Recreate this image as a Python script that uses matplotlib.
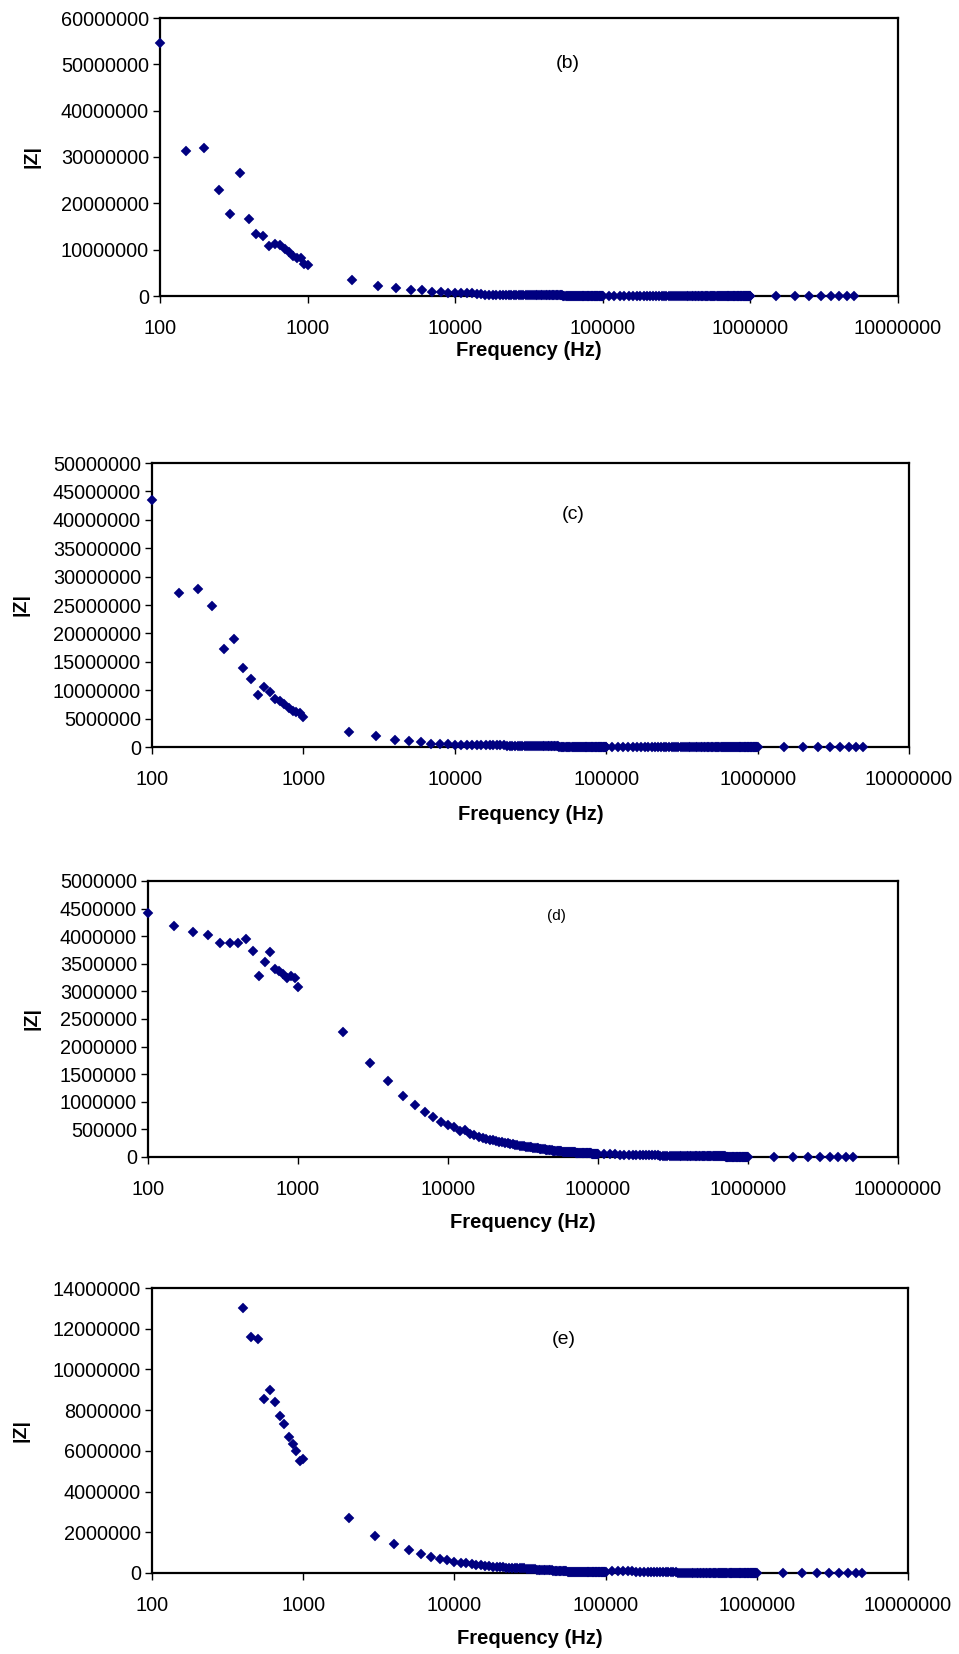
import numpy as np
import matplotlib.pyplot as plt
from matplotlib.ticker import FixedLocator, FuncFormatter, NullLocator

plt.rcParams['font.family'] = ['Liberation Sans', 'DejaVu Sans']

f_low = [100, 150, 200, 250, 300, 350, 400, 450, 500, 550,
         600, 650, 700, 750, 800, 850, 900, 950, 1000]
f_mid = [2000, 3000, 4000, 5000, 6000, 7000, 8000, 9000, 10000]
f_dense1_khz = [11, 12, 13, 14, 15, 16, 17, 18, 19, 20,
                21, 22, 23, 24, 25, 26, 27, 28, 29, 30,
                31, 32, 33, 34, 35, 36, 37, 38, 39, 40,
                41, 42, 43, 44, 45, 46, 47, 48, 49, 50,
                51, 52, 53, 54, 55, 56, 57, 58, 59, 60,
                61, 62, 63, 64, 65, 66, 67, 68, 69, 70,
                71, 72, 73, 74, 75, 76, 77, 78, 79, 80,
                81, 82, 83, 84, 85, 86, 87, 88, 89, 90,
                91, 92, 93, 94, 95, 96, 97, 98, 99, 100]
f_dense2_khz = [110, 120, 130, 140, 150, 160, 170, 180, 190, 200,
                210, 220, 230, 240, 250, 260, 270, 280, 290, 300,
                310, 320, 330, 340, 350, 360, 370, 380, 390, 400,
                410, 420, 430, 440, 450, 460, 470, 480, 490, 500,
                510, 520, 530, 540, 550, 560, 570, 580, 590, 600,
                610, 620, 630, 640, 650, 660, 670, 680, 690, 700,
                710, 720, 730, 740, 750, 760, 770, 780, 790, 800,
                810, 820, 830, 840, 850, 860, 870, 880, 890, 900,
                910, 920, 930, 940, 950, 960, 970, 980, 990, 1000]
f_high = [1500000, 2000000, 2500000, 3000000, 3500000, 4000000, 4500000, 5000000]

# ---- panel (b) ----  low/mid in MOhm, dense/high in kOhm
zb_low = [54.6, 31.3, 31.9, 22.8, 17.7, 26.6, 16.7, 13.3, 13.0, 10.7,
          11.3, 11.0, 10.2, 9.5, 8.6, 8.1, 8.2, 7.0, 6.6]
zb_mid = [3.4, 2.1, 1.8, 1.2, 1.2, 0.8, 0.8, 0.58, 0.58]
zb_dense1 = [560, 550, 540, 530, 520, 260, 255, 250, 246, 242,
             238, 235, 232, 229, 226, 223, 220, 217, 214, 211,
             208, 205, 202, 200, 197, 195, 193, 190, 188, 186,
             184, 182, 180, 178, 176, 130, 126, 122, 118, 115,
             112, 110, 108, 106, 104, 102, 100, 98, 96, 95,
             94, 92, 90, 89, 88, 86, 85, 84, 83, 82,
             80, 79, 78, 77, 76, 75, 74, 73, 72, 71,
             70, 69, 68, 67, 66, 65, 64, 63, 62, 61,
             60, 60, 59, 58, 57, 57, 56, 55, 55, 54]
zb_dense2 = [60, 58, 56, 54, 52, 50, 48, 47, 46, 45,
             44, 43, 42, 41, 40, 39, 38, 37, 36, 35,
             24, 23, 23, 22, 22, 21, 21, 20, 20, 19,
             19, 18, 18, 18, 17, 17, 17, 16, 16, 16,
             15, 15, 15, 15, 14, 14, 14, 14, 13, 13,
             13, 13, 13, 12, 12, 12, 12, 12, 11, 11,
             11, 11, 11, 11, 10, 10, 10, 10, 10, 10,
             10, 9, 9, 9, 9, 9, 9, 9, 9, 8,
             8, 8, 8, 8, 8, 8, 8, 8, 7, 7]
zb_high = [6, 5, 5, 4, 4, 4, 3, 3]

# ---- panel (c) ----
zc_low = [43.5, 27.05, 27.8, 24.9, 17.3, 19.1, 13.85, 12.0, 9.15, 10.5,
          9.7, 8.45, 8.15, 7.6, 6.9, 6.3, 6.1, 5.9, 5.3]
zc_mid = [2.6, 1.9, 1.3, 1.0, 0.82, 0.53, 0.53, 0.59, 0.3]
zc_dense1 = [310, 305, 300, 296, 292, 288, 284, 280, 276, 272,
             268, 264, 260, 256, 252, 248, 244, 240, 236, 232,
             228, 225, 222, 219, 216, 213, 210, 207, 204, 201,
             198, 195, 192, 190, 188, 186, 184, 90, 88, 86,
             84, 82, 80, 78, 77, 76, 75, 74, 73, 72,
             71, 70, 69, 68, 67, 66, 65, 64, 63, 62,
             61, 60, 60, 59, 58, 58, 57, 56, 56, 55,
             55, 54, 54, 53, 53, 52, 52, 51, 51, 50,
             50, 49, 49, 48, 48, 47, 47, 46, 46, 45]
zc_dense2 = [44, 42, 40, 38, 37, 35, 34, 33, 32, 31,
             30, 29, 28, 27, 26, 26, 25, 24, 24, 23,
             23, 22, 22, 21, 21, 20, 20, 19, 19, 18,
             18, 18, 17, 17, 17, 16, 16, 16, 15, 15,
             15, 14, 14, 14, 14, 13, 13, 13, 13, 12,
             12, 12, 12, 12, 11, 11, 11, 11, 11, 10,
             10, 10, 10, 10, 10, 9, 9, 9, 9, 9,
             9, 9, 8, 8, 8, 8, 8, 8, 8, 8,
             7, 7, 7, 7, 7, 7, 7, 7, 7, 7]
zc_high = [6, 5, 5, 4, 4, 4, 3, 3]

# ---- panel (d) ----
zd_low = [4.42, 4.18, 4.08, 4.03, 3.87, 3.87, 3.87, 3.95, 3.74, 3.27,
          3.53, 3.71, 3.40, 3.37, 3.31, 3.24, 3.28, 3.24, 3.08]
zd_mid = [2.27, 1.71, 1.38, 1.11, 0.95, 0.82, 0.72, 0.64, 0.58]
zd_dense1 = [540, 480, 490, 410, 390, 355, 340, 325, 312, 300,
             288, 278, 268, 258, 249, 240, 232, 224, 216, 208,
             202, 196, 190, 185, 180, 175, 170, 165, 160, 155,
             150, 146, 142, 138, 134, 130, 127, 124, 120, 117,
             112, 110, 108, 106, 104, 102, 100, 99, 97, 96,
             94, 93, 91, 90, 89, 87, 86, 85, 83, 82,
             81, 80, 79, 78, 77, 76, 75, 74, 73, 72,
             71, 70, 69, 68, 68, 67, 66, 65, 64, 64,
             63, 62, 62, 61, 60, 59, 59, 58, 57, 56]
zd_dense2 = [52, 49, 46, 44, 42, 40, 38, 36, 35, 33,
             32, 31, 30, 29, 28, 27, 26, 25, 24, 24,
             23, 22, 22, 21, 20, 20, 19, 19, 18, 18,
             17, 17, 17, 16, 16, 15, 15, 15, 14, 14,
             14, 13, 13, 13, 13, 12, 12, 12, 12, 11,
             11, 11, 11, 11, 10, 10, 10, 10, 10, 10,
             9, 9, 9, 9, 9, 9, 9, 8, 8, 8,
             8, 8, 8, 8, 8, 7, 7, 7, 7, 7,
             7, 7, 7, 7, 6, 6, 6, 6, 6, 6]
zd_high = [5, 4, 4, 3, 3, 3, 2, 2]

# ---- panel (e) ----  (points below 400 Hz are off the top of the scale)
fe_low = [400, 450, 500, 550, 600, 650, 700, 750, 800, 850, 900, 950, 1000]
ze_low = [13.0, 11.6, 11.5, 8.55, 9.0, 8.38, 7.73, 7.30, 6.68, 6.35,
          5.98, 5.49, 5.6]
ze_mid = [2.69, 1.82, 1.44, 1.15, 0.92, 0.78, 0.69, 0.64, 0.54]
ze_dense1 = [490, 490, 460, 410, 380, 360, 330, 310, 295, 280,
             272, 265, 258, 252, 246, 240, 235, 230, 225, 220,
             216, 212, 208, 204, 140, 138, 136, 134, 132, 130,
             128, 126, 125, 124, 122, 121, 120, 118, 117, 116,
             115, 114, 113, 112, 111, 70, 70, 69, 69, 68,
             68, 67, 67, 66, 66, 65, 65, 64, 64, 63,
             63, 62, 62, 61, 61, 60, 60, 59, 59, 58,
             58, 57, 57, 56, 56, 55, 55, 54, 54, 53,
             53, 52, 52, 51, 51, 50, 50, 49, 49, 48]
ze_dense2 = [100, 98, 96, 95, 93, 35, 34, 33, 32, 31,
             30, 29, 28, 28, 27, 26, 26, 25, 25, 24,
             24, 23, 23, 22, 22, 21, 21, 20, 20, 19,
             19, 19, 18, 18, 18, 17, 17, 17, 16, 16,
             16, 15, 15, 15, 15, 14, 14, 14, 14, 13,
             13, 13, 13, 12, 12, 12, 12, 12, 11, 11,
             11, 11, 11, 10, 10, 10, 10, 10, 10, 9,
             9, 9, 9, 9, 9, 9, 9, 8, 8, 8,
             8, 8, 8, 8, 8, 8, 7, 7, 7, 7]
ze_high = [6, 5, 5, 4, 4, 4, 3, 3]


def build(flow, zlow, zmid, zd1, zd2, zhigh):
    f = np.concatenate([flow, f_mid, np.array(f_dense1_khz) * 1e3,
                        np.array(f_dense2_khz) * 1e3, f_high])
    z = np.concatenate([np.array(zlow) * 1e6, np.array(zmid) * 1e6,
                        np.array(zd1) * 1e3, np.array(zd2) * 1e3,
                        np.array(zhigh) * 1e3])
    return f, z


W, H = 959, 1654
fig = plt.figure(figsize=(W / 100, H / 100), dpi=100)

navy = '#000080'
panels = [
    # data, (left, top, right, bottom) in px, ymax, ystep, tag, tag pos, tag size, ylabel x, xlabel y
    (build(f_low, zb_low, zb_mid, zb_dense1, zb_dense2, zb_high),
     (160, 18, 898, 296), 60000000, 10000000, '(b)', (568, 63), 14, 32, 350),
    (build(f_low, zc_low, zc_mid, zc_dense1, zc_dense2, zc_high),
     (152, 463, 909, 747), 50000000, 5000000, '(c)', (573, 514), 14, 21, 814),
    (build(f_low, zd_low, zd_mid, zd_dense1, zd_dense2, zd_high),
     (148, 881, 898, 1157), 5000000, 500000, '(d)', (556, 916), 11, 32, 1223),
    (build(fe_low, ze_low, ze_mid, ze_dense1, ze_dense2, ze_high),
     (152, 1288, 908, 1573), 14000000, 2000000, '(e)', (564, 1340), 14, 21, 1639),
]

for (f, z), (l, t, r, b), ymax, ystep, tag, tpos, tsize, ylx, xly in panels:
    ax = fig.add_axes([l / W, 1 - b / H, (r - l) / W, (b - t) / H])
    ax.plot(f, z, linestyle='none', marker='D', ms=5.2, color=navy,
            mec=navy, mew=0.3, clip_on=False, zorder=5)
    ax.set_xscale('log')
    ax.set_xlim(100, 10000000)
    ax.set_ylim(0, ymax)
    ax.xaxis.set_major_locator(FixedLocator([100, 1000, 10000, 100000, 1000000, 10000000]))
    ax.xaxis.set_minor_locator(NullLocator())
    ax.yaxis.set_major_locator(FixedLocator(np.arange(0, ymax + 1, ystep)))
    fmt = FuncFormatter(lambda v, p: f'{v:.0f}')
    ax.xaxis.set_major_formatter(fmt)
    ax.yaxis.set_major_formatter(fmt)
    ax.tick_params(axis='both', direction='out', length=5, width=1, labelsize=14.3)
    ax.tick_params(axis='x', pad=11.5)
    ax.tick_params(axis='y', pad=3)
    for s in ax.spines.values():
        s.set_linewidth(1.6)
    ax.text((tpos[0] - l) / (r - l), (b - tpos[1]) / (b - t), tag,
            transform=ax.transAxes, ha='center', va='center', fontsize=tsize)
    fig.text(ylx / W, 1 - (t + b) / 2 / H, '|Z|', rotation=90, ha='center',
             va='center', fontsize=14, fontweight='bold')
    fig.text((l + r) / 2 / W, 1 - xly / H, 'Frequency (Hz)', ha='center',
             va='center', fontsize=14.5, fontweight='bold')

fig.savefig('out.png', dpi=100)
